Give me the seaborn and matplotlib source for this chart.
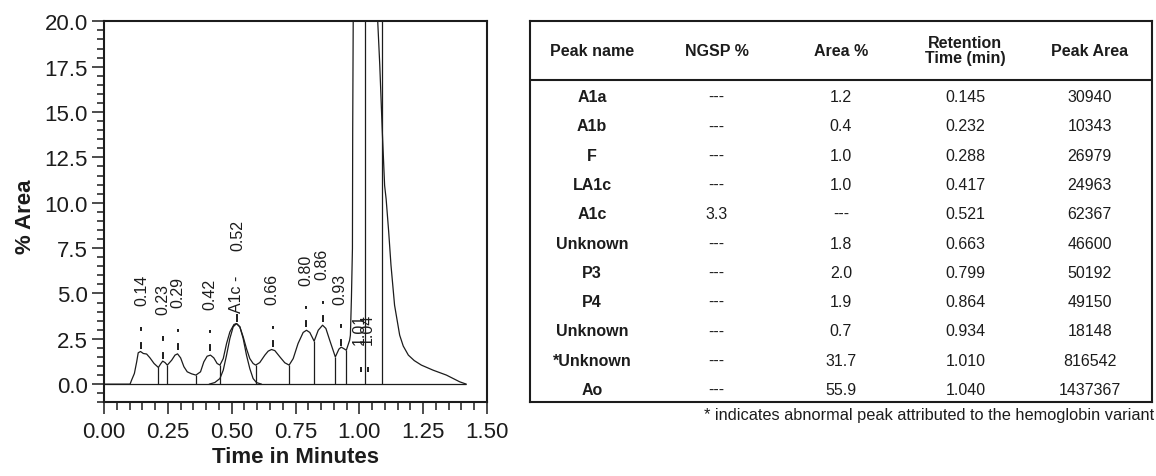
import numpy as np
import pandas as pd
import matplotlib
matplotlib.use("Agg")
import matplotlib.pyplot as plt
from matplotlib.ticker import MultipleLocator, FormatStrFormatter
import seaborn as sns

# ---------------- data ----------------
trace_time = [0.0, 0.102, 0.108, 0.119, 0.128, 0.134, 0.143, 0.154, 0.167, 0.180, 0.196,
              0.213, 0.222, 0.230, 0.239, 0.248, 0.265, 0.278, 0.288, 0.300, 0.313,
              0.326, 0.343, 0.360, 0.378, 0.391, 0.404, 0.417, 0.430, 0.443, 0.454,
              0.467, 0.480, 0.493, 0.509, 0.519, 0.532, 0.545, 0.558, 0.571, 0.584,
              0.594, 0.610, 0.630, 0.643, 0.656, 0.669, 0.689, 0.708, 0.725, 0.741,
              0.760, 0.780, 0.793, 0.806, 0.823, 0.839, 0.856, 0.869, 0.884, 0.906,
              0.920, 0.929, 0.939, 0.949, 0.962, 0.965, 0.969, 0.973, 0.974, 0.976,
              0.985, 1.010, 1.040, 1.065, 1.072, 1.080, 1.090, 1.099, 1.105, 1.115,
              1.124, 1.138, 1.158, 1.172, 1.192, 1.215, 1.243, 1.289, 1.341, 1.393,
              1.419]
trace_area = [0.0, 0.0, 0.22, 0.59, 1.23, 1.73, 1.80, 1.69, 1.66, 1.45, 1.14,
              0.92, 1.12, 1.27, 1.19, 1.05, 1.32, 1.60, 1.67, 1.45, 0.96,
              0.68, 0.57, 0.50, 0.68, 1.23, 1.54, 1.60, 1.45, 1.14, 1.05,
              1.41, 2.24, 2.88, 3.29, 3.34, 3.16, 2.61, 1.96, 1.41, 1.14,
              1.05, 1.19, 1.60, 1.82, 1.91, 1.85, 1.50, 1.18, 1.05, 1.41,
              2.24, 2.85, 2.97, 2.85, 2.37, 2.97, 3.25, 3.07, 2.42, 1.50,
              1.93, 2.04, 1.96, 1.87, 2.42, 2.70, 4.72, 7.47, 13.9, 20.0,
              40.0, 55.0, 60.0, 40.0, 20.0, 17.6, 13.9, 10.95, 10.2, 8.39,
              6.55, 4.35, 2.70, 2.10, 1.60, 1.30, 1.05, 0.77, 0.50, 0.13,
              0.0]

a1c_time = [0.412, 0.434, 0.454, 0.467, 0.480, 0.493, 0.506, 0.519, 0.532, 0.545,
            0.558, 0.571, 0.584, 0.597, 0.617]
a1c_area = [0.0, 0.09, 0.31, 0.77, 1.60, 2.52, 3.16, 3.34, 3.16, 2.52,
            1.60, 0.86, 0.31, 0.09, 0.0]

drop_time = [0.213, 0.248, 0.360, 0.454, 0.594, 0.725, 0.823, 0.906, 0.949, 1.024, 1.088]
drop_top = [0.92, 1.05, 0.50, 1.05, 1.05, 1.05, 2.37, 1.50, 1.87, 20.0, 20.0]

label_text = ["0.14", "0.23", "0.29", "0.42", "A1c -", "0.52", "0.66", "0.80", "0.86",
              "0.93", "1.01", "1.04"]
label_time = [0.147, 0.230, 0.291, 0.415, 0.519, 0.525, 0.656, 0.790, 0.855, 0.923,
              1.000, 1.032]
label_base = [4.35, 3.84, 4.26, 4.17, 3.98, 7.37, 4.44, 5.49, 5.82, 4.44, 2.24, 2.24]

mark_time = [0.144, 0.230, 0.290, 0.417, 0.660, 0.793, 0.858, 0.929]
mark_low = [1.96, 1.41, 1.87, 1.82, 2.06, 3.16, 3.43, 2.11]
mark_high = [3.16, 2.66, 3.03, 2.97, 3.21, 4.31, 4.59, 3.30]
short_mark_time = [0.519, 1.008, 1.034]
short_mark_low = [3.43, 0.68, 0.68]
short_mark_high = [3.89, 0.92, 0.92]

peak_names = ["A1a", "A1b", "F", "LA1c", "A1c", "Unknown", "P3", "P4", "Unknown",
              "*Unknown", "Ao"]
ngsp_pct = ["---", "---", "---", "---", "3.3", "---", "---", "---", "---", "---", "---"]
area_pct = ["1.2", "0.4", "1.0", "1.0", "---", "1.8", "2.0", "1.9", "0.7", "31.7", "55.9"]
retention = ["0.145", "0.232", "0.288", "0.417", "0.521", "0.663", "0.799", "0.864",
             "0.934", "1.010", "1.040"]
peak_area = ["30940", "10343", "26979", "24963", "62367", "46600", "50192", "49150",
             "18148", "816542", "1437367"]
headers = ["Peak name", "NGSP %", "Area %", "Retention\nTime (min)", "Peak Area"]
footnote = "* indicates abnormal peak attributed to the hemoglobin variant"

# ---------------- style ----------------
sns.set_style("ticks")
plt.rcParams['font.family'] = ['Liberation Sans', 'DejaVu Sans']
plt.rcParams['lines.scale_dashes'] = False
INK = "#1c1c1c"

W, H = 1156, 477
fig = plt.figure(figsize=(W / 100, H / 100), dpi=100)

# ---------------- chromatogram ----------------
ax = fig.add_axes([104 / W, 1 - 403.3 / H, (487 - 104) / W, (403.3 - 22.3) / H])

trace = pd.DataFrame({"time": trace_time, "area": trace_area})
a1c = pd.DataFrame({"time": a1c_time, "area": a1c_area})
sns.lineplot(data=trace, x="time", y="area", sort=False, estimator=None,
             color=INK, lw=0.9, ax=ax)
sns.lineplot(data=a1c, x="time", y="area", sort=False, estimator=None,
             color=INK, lw=0.9, ax=ax)
ax.hlines(0, 0, trace_time[-1], color=INK, lw=0.9)
ax.vlines(drop_time, 0, drop_top, color=INK, lw=0.9)
ax.vlines(mark_time, mark_low, mark_high, color=INK, lw=1.4, linestyles=[(0, (5, 8))])
ax.vlines(short_mark_time, short_mark_low, short_mark_high, color=INK, lw=1.4)
for t, x, y in zip(label_text, label_time, label_base):
    ax.text(x, y, t, rotation=90, ha="center", va="bottom", fontsize=11.5, color=INK)

ax.set_xlim(0, 1.5)
ax.set_ylim(-1, 20)
ax.xaxis.set_major_locator(MultipleLocator(0.25))
ax.xaxis.set_minor_locator(MultipleLocator(0.05))
ax.yaxis.set_major_locator(MultipleLocator(2.5))
ax.yaxis.set_minor_locator(MultipleLocator(0.5))
ax.xaxis.set_major_formatter(FormatStrFormatter("%.2f"))
ax.yaxis.set_major_formatter(FormatStrFormatter("%.1f"))
ax.tick_params(axis="both", which="both", direction="out", color=INK, width=1.1,
               labelsize=16, labelcolor=INK)
ax.tick_params(axis="y", which="major", length=8.6, pad=3)
ax.tick_params(axis="y", which="minor", length=5)
ax.tick_params(axis="x", which="major", length=8.4, pad=5)
ax.tick_params(axis="x", which="minor", length=5.8)
for s in ax.spines.values():
    s.set_visible(True)
    s.set_linewidth(1.5)
    s.set_color(INK)
ax.set_xlabel("Time in Minutes", fontsize=16, fontweight="bold", color=INK)
ax.set_ylabel("% Area", fontsize=16, fontweight="bold", color=INK)
ax.xaxis.set_label_coords(0.5, -0.114)
ax.xaxis.label.set_va("top")
ax.yaxis.set_label_coords(-0.177, 0.49)

# ---------------- table ----------------
n_rows = len(peak_names)
header_h = 2.016
tax = fig.add_axes([530 / W, 1 - 402.7 / H, (1152 - 530) / W, (402.7 - 21.7) / H])
tax.set_xlim(0, 5)
tax.set_ylim(header_h + n_rows, 0)
tax.set_xticks([])
tax.set_yticks([])
for s in tax.spines.values():
    s.set_visible(True)
    s.set_linewidth(1.5)
    s.set_color(INK)
tax.axhline(header_h, color=INK, lw=1.5)

for j, h in enumerate(headers):
    tax.text(j + 0.5, header_h / 2, h, ha="center", va="center", fontsize=11.5,
             fontweight="bold", color=INK, linespacing=1.0)
columns = [peak_names, ngsp_pct, area_pct, retention, peak_area]
for j, col in enumerate(columns):
    for i, v in enumerate(col):
        tax.text(j + 0.5, header_h + i + 0.58, v, ha="center", va="center",
                 fontsize=11.5, color=INK, fontweight="bold" if j == 0 else "normal")

fig.text(1154 / W, 1 - 416 / H, footnote, ha="right", va="center", fontsize=11.8,
         color=INK)

fig.savefig("out.png", dpi=100, facecolor="white")
